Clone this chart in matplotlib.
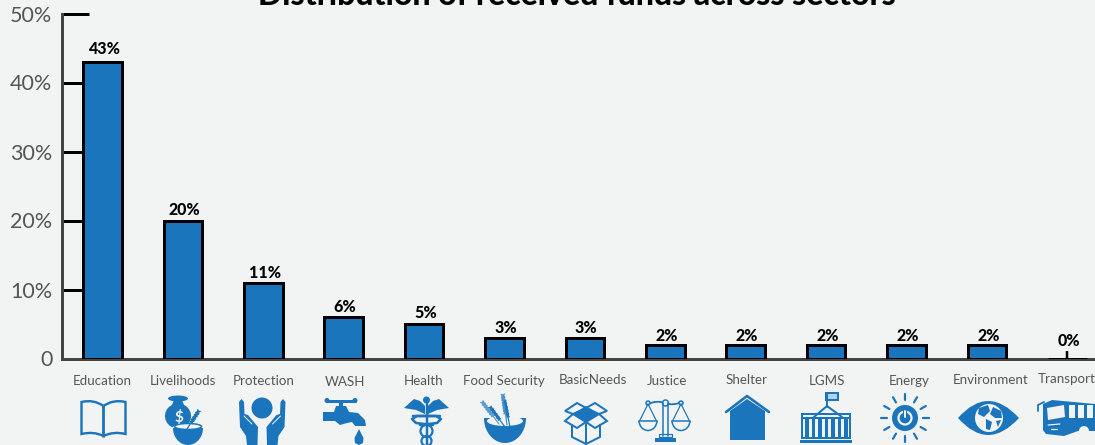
import numpy as np
import matplotlib
matplotlib.use("Agg")
import matplotlib.pyplot as plt
from matplotlib.patches import Polygon, Circle, Ellipse, Rectangle, PathPatch, Arc
from matplotlib.path import Path
from matplotlib.transforms import ScaledTranslation

categories = ["Education", "Livelihoods", "Protection", "WASH", "Health", "Food Security",
              "BasicNeeds", "Justice", "Shelter", "LGMS", "Energy", "Environment", "Transport"]
values = [43, 20, 11, 6, 5, 3, 3, 2, 2, 2, 2, 2, 0]
y_ticks = [0, 10, 20, 30, 40, 50]
y_labels = ["0", "10%", "20%", "30%", "40%", "50%"]
label_dx = [0, 0, 0, 1, -1, -1, 8, 2, 1, 1, 3, 4, -1]
label_dy = [0, 0, 0, -1, 0, 0, 1, 0, 1, 0, 0, 1, 2]
value_dy = [0, -2, -3, -3, -2, -3, -3, -4, -4, -4, -4, -4, 5]
title = "Distribution of received funds across sectors"

BG = "#f2f4f3"
BLUE = "#1b75bc"
W, H = 1095, 445
FONT = "Lato"
px = 0.72

fig = plt.figure(figsize=(W / 100, H / 100), dpi=100, facecolor=BG)
ax = fig.add_axes([62 / W, 1 - 358.5 / H, (W - 62) / W, 345 / H], facecolor=BG)
x = np.arange(len(categories))
ax.set_axisbelow(True)
ax.bar(x, values, width=0.48, color=BLUE, edgecolor="black", linewidth=3 * px, zorder=3)
ax.set_xlim(-0.504, 12.345)
ax.set_ylim(0, 50)
for s in ("top", "right"):
    ax.spines[s].set_visible(False)
for s in ("left", "bottom"):
    ax.spines[s].set_color("#444444")
    ax.spines[s].set_linewidth(3 * px)
    ax.spines[s].set_zorder(2)
ax.set_yticks(y_ticks, y_labels, fontsize=15.5, color="#555555", family=FONT)
ax.tick_params(axis="y", direction="in", length=27 * px, width=3 * px, color="black", pad=7)
ax.set_xticks(x, categories, fontsize=9.6, color="#555555", family=FONT)
ax.tick_params(axis="x", direction="in", length=8 * px, width=2.5 * px, color="black", pad=11)
for lab, dx, dy in zip(ax.get_xticklabels(), label_dx, label_dy):
    lab.set_transform(lab.get_transform() + ScaledTranslation(dx * px / 72, (dy - 1) * px / 72, fig.dpi_scale_trans))
for xi, v, dy in zip(x, values, value_dy):
    ax.annotate(f"{v}%", xy=(xi, v), xytext=(1, 3.5 + dy * px), textcoords="offset points", ha="center", va="bottom",
                fontsize=11.5, fontweight="black", family=FONT, color="black", zorder=5)
ax.set_title(title, fontsize=23, fontweight="black", family=FONT, color="black", x=0.4985, pad=6, clip_on=False)

# Icons are decoration under the axis, drawn in figure pixel coordinates.
ov = fig.add_axes([0, 0, 1, 1], facecolor="none")
ov.set_xlim(0, W)
ov.set_ylim(H, 0)
ov.axis("off")


def poly(pts, fc=BLUE, ec="none", lw=0):
    ov.add_patch(Polygon(pts, closed=True, fc=fc, ec=ec, lw=lw * px))


def line(pts, lw=2, c=BLUE):
    p = np.array(pts, float)
    ov.plot(p[:, 0], p[:, 1], color=c, lw=lw * px, solid_capstyle="round", solid_joinstyle="round")


def circ(cx, cy, r, fc=BLUE, ec="none", lw=0):
    ov.add_patch(Circle((cx, cy), r, fc=fc, ec=ec, lw=lw * px))


def ell(cx, cy, w, h, fc=BLUE, ec="none", lw=0, ang=0):
    ov.add_patch(Ellipse((cx, cy), w, h, angle=ang, fc=fc, ec=ec, lw=lw * px))


def curve(verts, fc=BLUE, ec="none", lw=0):
    codes = [Path.MOVETO] + [Path.CURVE3] * (len(verts) - 1)
    ov.add_patch(PathPatch(Path(verts, codes), fc=fc, ec=ec, lw=lw * px))


def half_bowl(cx, cy, rx, ry):
    t = np.linspace(0, np.pi, 40)
    poly(np.c_[cx + rx * np.cos(t), cy + ry * np.sin(t)])


def wheat(x0, y0, x1, y1, c=BLUE, n=6, s=5):
    line([(x0, y0), (x1, y1)], 1.2, c)
    d = np.array([x1 - x0, y1 - y0], float)
    ang = np.degrees(np.arctan2(d[1], d[0]))
    for f in np.linspace(0.45, 1, n):
        cx, cy = x0 + d[0] * f, y0 + d[1] * f
        ell(cx, cy, s, 2, fc=c, ang=ang + 40)
        ell(cx, cy, s, 2, fc=c, ang=ang - 40)


# Education: book
for sgn in (-1, 1):
    cx = 103.5
    curve([(cx, 406), (cx + sgn * 10, 399), (cx + sgn * 22, 402), (cx + sgn * 22, 418), (cx + sgn * 22, 434),
           (cx + sgn * 10, 431), (cx, 436), (cx, 421), (cx, 406)], fc="none", ec=BLUE, lw=2.4)

# Livelihoods: money bag and bowl
ell(178, 398.5, 20, 6)
poly([(174, 400), (182, 400), (184, 405), (172, 405)])
ell(178, 416, 26, 25)
ov.text(178.5, 417, "$", color=BG, fontsize=11, fontweight="bold", ha="center", va="center", family=FONT)
ell(188, 428, 31, 10, fc=BG)
half_bowl(188, 428, 15, 17)
ell(188, 426.5, 27, 6, fc=BG, ec=BLUE, lw=1.5)
wheat(187, 429, 198, 412, BLUE, n=5, s=6)

# Protection: person and hands
circ(262, 408, 10.5)
for m in (0, 1):
    f = (lambda a: a) if m == 0 else (lambda a: 524.5 - a)
    poly([(f(239), 402), (f(241.5), 399), (f(244), 402), (f(244.5), 414), (f(248), 415), (f(258), 427),
          (f(257.5), 445), (f(247), 445), (f(246), 436), (f(240), 427)])
    line([(f(244), 416), (f(252), 424)], 1, BG)

# WASH: tap and drop
line([(327, 400.5), (355, 400.5)], 3)
circ(327, 400.5, 2.5)
circ(355, 400.5, 2.5)
poly([(339, 400), (343, 400), (343, 406), (339, 406)])
poly([(323, 412), (334, 412), (336, 406), (346, 406), (349, 412), (358, 413), (365, 420), (366, 426),
      (355, 426), (352, 422), (347, 423), (340, 425), (335, 421), (323, 421)])
poly([(359, 429), (363.5, 438), (363, 443), (359, 445), (355, 443), (354.5, 438)])

# Health: caduceus
circ(426.5, 400, 3.5)
poly([(404, 408), (414, 399), (420, 401), (425, 406), (425, 414), (416, 410)])
poly([(449, 408), (439, 399), (433, 401), (428, 406), (428, 414), (437, 410)])
line([(426.5, 402), (426.5, 445)], 2.5)
line([(413, 416), (436, 416), (441, 419), (437, 423), (420, 425)], 2.5)
line([(440, 416), (417, 416), (412, 419), (416, 423), (433, 425)], 2.5)
ell(426.5, 431, 12, 12, fc="none", ec=BLUE, lw=2.2)
ell(426.5, 441, 10, 10, fc="none", ec=BLUE, lw=2.2)

# Food Security: wheat bowl
wheat(499, 424, 483, 403, "#5a9bd0", n=6, s=6)
wheat(507, 425, 503, 396, "#4a90cb", n=7, s=6)
half_bowl(505, 418, 21, 25)
ell(505, 421, 36, 10, fc=BG)
wheat(505, 427, 491, 408, BLUE, n=5, s=5)
wheat(510, 427, 505, 402, BLUE, n=5, s=5)

# BasicNeeds: open box
poly([(573, 414), (586, 406), (599, 414), (586, 422)])
poly([(565, 411), (577, 403), (586, 408), (573, 414), (565, 411)], fc="none", ec=BLUE, lw=2)
poly([(607, 411), (595, 403), (586, 408), (599, 414), (607, 411)], fc="none", ec=BLUE, lw=2)
poly([(565, 421), (573, 414), (586, 422), (577, 428)], fc="none", ec=BLUE, lw=2)
poly([(607, 421), (599, 414), (586, 422), (595, 428)], fc="none", ec=BLUE, lw=2)
line([(572, 425), (572, 437), (586, 444), (600, 437), (600, 425)], 2)
line([(586, 424), (586, 444)], 2)

# Justice: scales
line([(663, 403), (663, 436)], 1.5)
line([(668, 403), (668, 436)], 1.5)
curve([(648, 404), (657, 400), (665, 403), (673, 406), (682, 402)], fc="none", ec=BLUE, lw=1.8)
circ(665.5, 403, 3, fc=BG, ec=BLUE, lw=1.5)
for c, hw in ((648, 9), (681, 9)):
    circ(c, 403, 2, fc=BG, ec=BLUE, lw=1.5)
    line([(c, 404), (c - 8, 420)], 1.2)
    line([(c, 404), (c + 8, 420)], 1.2)
    line([(c - hw, 420.5), (c + hw, 420.5)], 1.5)
    ov.add_patch(Arc((c, 420.5), 2 * hw, 20, theta1=0, theta2=180, ec=BLUE, lw=1.5 * px))
ov.add_patch(Rectangle((659, 434), 13, 3, fc="none", ec=BLUE, lw=1.2 * px))
ov.add_patch(Rectangle((655, 438), 21, 4, fc=BLUE, ec="none"))

# Shelter: house
poly([(730, 411), (747, 399), (765, 411), (765, 440), (730, 440)])
line([(726, 412), (747, 396), (769, 412)], 2.6)

# LGMS: building with flag
line([(827, 393), (827, 407)], 2)
ov.add_patch(Rectangle((826, 393), 12, 7, fc="#b5d3ea", ec=BLUE, lw=2 * px))
line([(814, 417), (827, 406), (842, 417)], 2)
ov.add_patch(Rectangle((802, 414), 48, 24, fc="none", ec=BLUE, lw=2 * px))
line([(802, 418), (850, 418)], 2)
for cx in (807, 813.5, 820, 826.5, 833, 839.5, 846):
    ov.add_patch(Rectangle((cx - 1.7, 418), 3.4, 20, fc=BLUE, ec="none"))
ov.add_patch(Rectangle((800, 440), 52, 3, fc=BLUE, ec="none"))

# Energy: sun with power button
circ(905, 418, 13)
circ(905, 418, 6.5, fc="none", ec=BG, lw=2.2)
line([(905, 411), (905, 418)], 4, BLUE)
line([(905, 411), (905, 417)], 2, BG)
for a in np.radians(np.arange(0, 360, 30)):
    line([(905 + 18 * np.cos(a), 418 + 18 * np.sin(a)), (905 + 24 * np.cos(a), 418 + 24 * np.sin(a))], 2.2)

# Environment: eye with globe
curve([(958, 418), (988, 384), (1019, 418), (988, 452), (958, 418)])
circ(989, 418, 14, fc=BG)
poly([(979, 408), (988, 405), (990, 411), (984, 417), (978, 414)])
poly([(993, 407), (1001, 411), (1002, 418), (995, 418), (990, 414)])
poly([(986, 419), (992, 422), (990, 430), (986, 429)])
poly([(996, 421), (1001, 420), (998, 427)])

# Transport: bus
line([(1038, 411), (1038, 405), (1044, 402)], 1.8)
poly([(1043, 404), (1052, 400), (1095, 404), (1095, 431), (1086, 431), (1078, 431), (1064, 436), (1046, 434), (1043, 430)])
for wx in (1069, 1078, 1087):
    ov.add_patch(Rectangle((wx, 405), 6, 13, fc=BG, ec="none"))
poly([(1047, 408), (1064, 405), (1065, 417), (1048, 420)], fc=BG)
circ(1084, 431, 5, fc=BG)
line([(1048, 425), (1060, 424)], 1.2, BG)
line([(1051, 429), (1057, 429)], 1.2, BG)

fig.savefig("out.png", dpi=100, facecolor=BG)
